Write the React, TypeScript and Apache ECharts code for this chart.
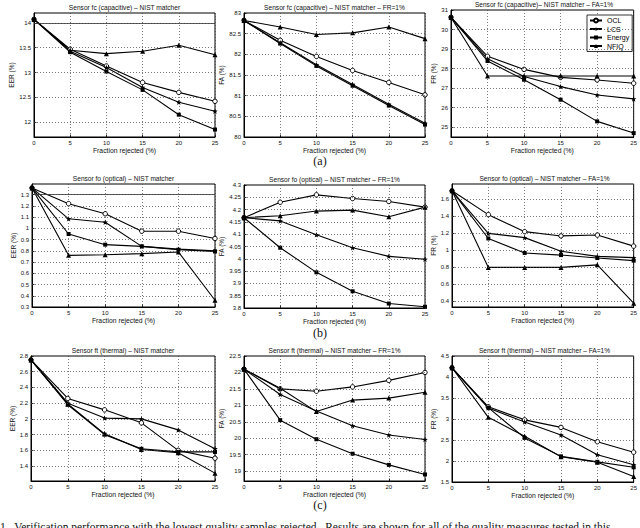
import React, { useEffect, useRef } from "react";
import * as echarts from "echarts";

// ---------- DATA ----------
const fractionRejected = [0, 5, 10, 15, 20, 25];
const methodNames = ["OCL", "LCS", "Energy", "NFIQ"];

// (a) capacitive sensor fc
const eerFcOCL = [14.07, 13.47, 13.13, 12.8, 12.6, 12.42];
const eerFcLCS = [14.07, 13.43, 13.1, 12.7, 12.4, 12.22];
const eerFcEnergy = [14.07, 13.41, 13.02, 12.65, 12.15, 11.85];
const eerFcNFIQ = [14.07, 13.45, 13.38, 13.43, 13.55, 13.36];
const eerFcTicks = [12, 12.5, 13, 13.5, 14];

const faFcOCL = [82.82, 82.34, 81.95, 81.61, 81.32, 81.02];
const faFcLCS = [82.82, 82.28, 81.75, 81.27, 80.79, 80.33];
const faFcEnergy = [82.82, 82.26, 81.72, 81.24, 80.76, 80.3];
const faFcNFIQ = [82.82, 82.66, 82.48, 82.52, 82.66, 82.38];
const faFcTicks = [80, 80.5, 81, 81.5, 82, 82.5, 83];

const frFcOCL = [30.62, 28.63, 27.96, 27.55, 27.42, 27.25];
const frFcLCS = [30.62, 28.5, 27.6, 27.08, 26.65, 26.45];
const frFcEnergy = [30.62, 28.39, 27.43, 26.41, 25.3, 24.7];
const frFcNFIQ = [30.62, 27.62, 27.62, 27.62, 27.62, 27.62];
const frFcTicks = [25, 26, 27, 28, 29, 30, 31];

// (b) optical sensor fo
const eerFoOCL = [1.36, 1.22, 1.13, 0.975, 0.975, 0.91];
const eerFoLCS = [1.36, 1.085, 1.055, 0.84, 0.815, 0.8];
const eerFoEnergy = [1.36, 0.95, 0.855, 0.84, 0.81, 0.795];
const eerFoNFIQ = [1.36, 0.76, 0.765, 0.775, 0.79, 0.36];
const eerFoTicks = [0.3, 0.4, 0.5, 0.6, 0.7, 0.8, 0.9, 1, 1.1, 1.2, 1.3];

const faFoOCL = [4.167, 4.23, 4.26, 4.245, 4.233, 4.21];
const faFoLCS = [4.167, 4.154, 4.098, 4.045, 4.01, 3.998];
const faFoEnergy = [4.167, 4.045, 3.945, 3.868, 3.818, 3.805];
const faFoNFIQ = [4.167, 4.175, 4.194, 4.198, 4.171, 4.21];
const faFoTicks = [3.8, 3.85, 3.9, 3.95, 4, 4.05, 4.1, 4.15, 4.2, 4.25, 4.3];

const frFoOCL = [1.7, 1.42, 1.22, 1.17, 1.18, 1.05];
const frFoLCS = [1.7, 1.2, 1.15, 0.99, 0.93, 0.915];
const frFoEnergy = [1.7, 1.14, 0.97, 0.945, 0.91, 0.88];
const frFoNFIQ = [1.7, 0.8, 0.8, 0.8, 0.83, 0.38];
const frFoTicks = [0.4, 0.6, 0.8, 1, 1.2, 1.4, 1.6];

// (c) thermal sensor ft
const eerFtOCL = [2.75, 2.26, 2.115, 1.95, 1.6, 1.5];
const eerFtLCS = [2.75, 2.2, 2.01, 2.0, 1.86, 1.62];
const eerFtEnergy = [2.75, 2.18, 1.8, 1.62, 1.58, 1.58];
const eerFtNFIQ = [2.75, 2.19, 1.81, 1.61, 1.57, 1.31];
const eerFtTicks = [1.4, 1.6, 1.8, 2, 2.2, 2.4, 2.6, 2.8];

const faFtOCL = [22.1, 21.5, 21.43, 21.56, 21.76, 22.0];
const faFtLCS = [22.1, 21.33, 20.83, 20.38, 20.1, 19.96];
const faFtEnergy = [22.1, 20.55, 19.97, 19.53, 19.19, 18.9];
const faFtNFIQ = [22.1, 21.52, 20.81, 21.16, 21.22, 21.4];
const faFtTicks = [19, 19.5, 20, 20.5, 21, 21.5, 22, 22.5];

const frFtOCL = [4.22, 3.29, 2.98, 2.8, 2.46, 2.21];
const frFtLCS = [4.22, 3.26, 2.93, 2.62, 2.15, 1.91];
const frFtEnergy = [4.22, 3.27, 2.55, 2.11, 1.98, 1.85];
const frFtNFIQ = [4.22, 3.04, 2.59, 2.1, 1.97, 1.63];
const frFtTicks = [1.5, 2, 2.5, 3, 3.5, 4, 4.5];

const panels = [
  { title: "Sensor fc (capacitive) \u2013 NIST matcher", yName: "EER (%)", yMin: 11.7, yMax: 14.2, yTicks: eerFcTicks, values: [eerFcOCL, eerFcLCS, eerFcEnergy, eerFcNFIQ], solidAt: 14 },
  { title: "Sensor fc (capacitive) \u2013 NIST matcher \u2013 FR=1%", yName: "FA (%)", yMin: 80, yMax: 83, yTicks: faFcTicks, values: [faFcOCL, faFcLCS, faFcEnergy, faFcNFIQ] },
  { title: "Sensor fc (capacitive)\u2013 NIST matcher \u2013 FA=1%", yName: "FR (%)", yMin: 24.5, yMax: 31, yTicks: frFcTicks, values: [frFcOCL, frFcLCS, frFcEnergy, frFcNFIQ] },
  { title: "Sensor fo (optical) \u2013 NIST matcher", yName: "EER (%)", yMin: 0.3, yMax: 1.395, yTicks: eerFoTicks, values: [eerFoOCL, eerFoLCS, eerFoEnergy, eerFoNFIQ], solidAt: 1.3 },
  { title: "Sensor fo (optical) \u2013 NIST matcher \u2013 FR=1%", yName: "FA (%)", yMin: 3.8, yMax: 4.3, yTicks: faFoTicks, values: [faFoOCL, faFoLCS, faFoEnergy, faFoNFIQ] },
  { title: "Sensor fo (optical) \u2013 NIST matcher \u2013 FA=1%", yName: "FR (%)", yMin: 0.335, yMax: 1.78, yTicks: frFoTicks, values: [frFoOCL, frFoLCS, frFoEnergy, frFoNFIQ] },
  { title: "Sensor ft (thermal) \u2013 NIST matcher", yName: "EER (%)", yMin: 1.21, yMax: 2.8, yTicks: eerFtTicks, values: [eerFtOCL, eerFtLCS, eerFtEnergy, eerFtNFIQ] },
  { title: "Sensor ft (thermal) \u2013 NIST matcher \u2013 FR=1%", yName: "FA (%)", yMin: 18.7, yMax: 22.5, yTicks: faFtTicks, values: [faFtOCL, faFtLCS, faFtEnergy, faFtNFIQ] },
  { title: "Sensor ft (thermal) \u2013 NIST matcher \u2013 FA=1%", yName: "FR (%)", yMin: 1.5, yMax: 4.5, yTicks: frFtTicks, values: [frFtOCL, frFtLCS, frFtEnergy, frFtNFIQ] },
];

const subCaptions = ["(a)", "(b)", "(c)"];
const figureCaption =
  "1.  Verification performance with the lowest quality samples rejected.  Results are shown for all of the quality measures tested in this";

// ---------- LAYOUT / STYLE ----------
const boxes = [
  [34, 13, 181, 124],
  [244, 13, 181, 124],
  [451, 10, 186, 127],
  [32, 184, 183, 123],
  [244, 185, 181, 123],
  [452, 184, 185, 123],
  [31, 356, 184, 125],
  [244, 356, 181, 125],
  [452, 356, 185, 126],
];
const yNameGaps = [17, 10, 6, 14, 10, 8, 15, 10, 9];
const captionY = [161, 333, 505];

const SANS = "'Liberation Sans', Arial, sans-serif";
const SERIF = "'Liberation Serif', 'Times New Roman', serif";
const STAR =
  "path://M0,-10L2.4,-3.3L9.5,-3.1L3.9,1.3L5.9,8.1L0,4.1L-5.9,8.1L-3.9,1.3L-9.5,-3.1L-2.4,-3.3Z";
const markerStyles: Record<string, { symbol: string; size: number; fill: string }> = {
  OCL: { symbol: "circle", size: 4.5, fill: "#fff" },
  LCS: { symbol: STAR, size: 5.5, fill: "#000" },
  Energy: { symbol: "rect", size: 4, fill: "#000" },
  NFIQ: { symbol: "triangle", size: 5, fill: "#000" },
};
const gridDash = { type: [1, 2] as any, color: "#444", width: 0.7 };

const fmt = (v: number) => String(Math.round(v * 1000) / 1000);

function buildOption() {
  const series: any[] = [];
  panels.forEach((p, i) => {
    p.values.forEach((vals, k) => {
      const name = methodNames[k];
      const m = markerStyles[name];
      const s: any = {
        type: "line",
        name,
        xAxisIndex: i,
        yAxisIndex: i,
        data: fractionRejected.map((x, j) => [x, vals[j]]),
        symbol: m.symbol,
        symbolSize: m.size,
        showAllSymbol: true,
        lineStyle: { color: "#000", width: 1.1 },
        itemStyle: { color: m.fill, borderColor: "#000", borderWidth: name === "OCL" ? 1 : 0 },
        emphasis: { disabled: true },
        silent: true,
        z: 3,
      };
      if (k === 0) {
        const eps = 1e-6;
        const lines: any[] = p.yTicks
          .filter((v) => v > p.yMin + eps && v < p.yMax - eps)
          .map((v) => ({ yAxis: v }));
        if ((p as any).solidAt !== undefined) {
          lines.push({ yAxis: (p as any).solidAt, lineStyle: { type: "solid", color: "#333", width: 0.8 } });
        }
        s.markLine = {
          silent: true,
          symbol: ["none", "none"],
          label: { show: false },
          lineStyle: gridDash,
          emphasis: { disabled: true },
          animation: false,
          data: lines,
        };
      }
      series.push(s);
    });
  });

  const graphic: any[] = [];
  panels.forEach((p, i) => {
    const [l, t, w] = boxes[i];
    graphic.push({
      type: "text",
      x: l + w / 2,
      y: t - 6,
      silent: true,
      style: {
        text: p.title,
        font: `6.6px ${SANS}`,
        fill: "#111",
        align: "center",
        verticalAlign: "middle",
        textAlign: "center",
        textVerticalAlign: "middle",
      },
    });
  });
  subCaptions.forEach((c, r) => {
    graphic.push({
      type: "text",
      x: 320,
      y: captionY[r],
      silent: true,
      style: {
        text: c,
        font: `12px ${SERIF}`,
        fill: "#111",
        align: "center",
        verticalAlign: "middle",
        textAlign: "center",
        textVerticalAlign: "middle",
      },
    });
  });
  graphic.push({
    type: "text",
    x: 0,
    y: 527,
    silent: true,
    style: {
      text: figureCaption,
      font: `11.5px ${SERIF}`,
      fill: "#111",
      align: "left",
      verticalAlign: "middle",
      textAlign: "left",
      textVerticalAlign: "middle",
    },
  });

  return {
    animation: false,
    backgroundColor: "#fff",
    textStyle: { fontFamily: SANS },
    grid: boxes.map(([l, t, w, h]) => ({
      left: l,
      top: t,
      width: w,
      height: h,
      show: true,
      borderColor: "#000",
      borderWidth: 1,
      backgroundColor: "rgba(0,0,0,0)",
      containLabel: false,
    })),
    xAxis: panels.map((p, i) => ({
      type: "value",
      gridIndex: i,
      min: 0,
      max: 25,
      interval: 5,
      name: "Fraction rejected (%)",
      nameLocation: "middle",
      nameGap: 9,
      nameTextStyle: { fontSize: 6.8, color: "#111", fontFamily: SANS },
      axisLine: { show: true, onZero: false, lineStyle: { color: "#000", width: 1 } },
      axisTick: { show: true, inside: true, length: 2.5, lineStyle: { color: "#000", width: 0.8 } },
      axisLabel: { fontSize: 6, color: "#111", margin: 3, fontFamily: SANS },
      splitLine: { show: true, lineStyle: gridDash },
    })),
    yAxis: panels.map((p, i) => ({
      type: "value",
      gridIndex: i,
      min: p.yMin,
      max: p.yMax,
      name: p.yName,
      nameLocation: "middle",
      nameRotate: 90,
      nameGap: yNameGaps[i],
      nameTextStyle: { fontSize: 6.5, color: "#111", fontFamily: SANS },
      axisLine: { show: true, onZero: false, lineStyle: { color: "#000", width: 1 } },
      axisTick: {
        show: true,
        inside: true,
        length: 2.5,
        customValues: p.yTicks,
        lineStyle: { color: "#000", width: 0.8 },
      },
      axisLabel: {
        customValues: p.yTicks,
        fontSize: 6,
        color: "#111",
        margin: 3,
        fontFamily: SANS,
        formatter: (v: number) => fmt(v),
      },
      splitLine: { show: false },
    })),
    legend: {
      data: methodNames,
      orient: "vertical",
      left: 587,
      top: 15,
      align: "left",
      itemWidth: 12,
      itemHeight: 5,
      itemGap: 1.5,
      selectedMode: false,
      textStyle: { fontSize: 7, color: "#000", fontFamily: SANS },
      borderColor: "#000",
      borderWidth: 0.8,
      padding: [2, 3, 2, 2],
      backgroundColor: "#fff",
    },
    graphic,
    series,
  };
}

export default function App() {
  const ref = useRef<HTMLDivElement>(null);
  useEffect(() => {
    if (!ref.current) return;
    const chart = echarts.init(ref.current, undefined, { renderer: "svg" });
    chart.setOption(buildOption() as any);
    return () => chart.dispose();
  }, []);
  return <div ref={ref} style={{ width: 640, height: 528, position: "absolute", left: 0, top: 0 }} />;
}
